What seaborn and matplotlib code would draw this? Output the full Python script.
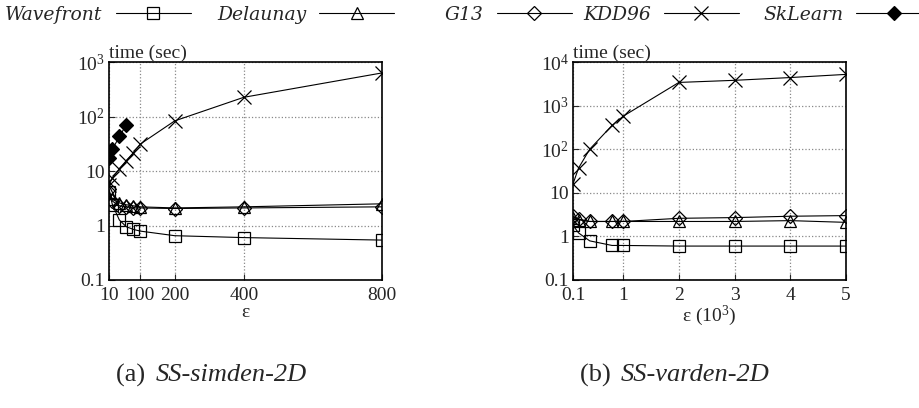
import matplotlib
matplotlib.use("Agg")
import matplotlib.pyplot as plt
import seaborn as sns
import pandas as pd

# ---- data (a) SS-simden-2D ----
eps_a = [10, 20, 40, 60, 80, 100, 200, 400, 800]
wavefront_a = [4.2, 2.4, 1.26, 0.95, 0.85, 0.79, 0.65, 0.60, 0.54]
delaunay_a = [4.2, 3.0, 2.6, 2.4, 2.3, 2.2, 2.1, 2.2, 2.5]
g13_a = [4.6, 2.8, 2.3, 2.2, 2.1, 2.1, 2.05, 2.1, 2.2]
kdd96_a = [5.5, 7.5, 11, 15.5, 21.5, 31, 83, 225, 630]
sk_eps_a = [10, 20, 40, 60]
sklearn_a = [17, 25, 43, 70]

# ---- data (b) SS-varden-2D ----
eps_b = [0.1, 0.2, 0.4, 0.8, 1, 2, 3, 4, 5]
wavefront_b = [1.8, 1.2, 0.79, 0.62, 0.62, 0.60, 0.60, 0.60, 0.60]
delaunay_b = [2.7, 2.4, 2.2, 2.2, 2.2, 2.2, 2.2, 2.3, 2.1]
g13_b = [2.9, 2.5, 2.2, 2.2, 2.2, 2.6, 2.7, 2.9, 3.0]
kdd96_b = [16, 37, 100, 350, 570, 3400, 3800, 4400, 5200]

xticks_a = [10, 100, 200, 400, 800]
xticks_b = [0.1, 1, 2, 3, 4, 5]
yticks_a = [0.1, 1, 10, 100, 1000]
ylabels_a = ["0.1", "1", "10", "10$^2$", "10$^3$"]
yticks_b = [0.1, 1, 10, 100, 1000, 10000]
ylabels_b = ["0.1", "1", "10", "10$^2$", "10$^3$", "10$^4$"]

legend_names = ["Wavefront", "Delaunay", "G13", "KDD96", "SkLearn"]
captions = [("(a)", "SS-simden-2D"), ("(b)", "SS-varden-2D")]

sns.set_style("ticks")
plt.rcParams["font.family"] = ["Liberation Serif", "DejaVu Serif"]
plt.rcParams["mathtext.fontset"] = "custom"
plt.rcParams["mathtext.rm"] = "Liberation Serif"
plt.rcParams["mathtext.it"] = "Liberation Serif:italic"

W, H = 920, 408
fig = plt.figure(figsize=(9.2, 4.08), dpi=100)
ax_a = fig.add_axes([109 / W, 1 - 280 / H, 273 / W, 218 / H])
ax_b = fig.add_axes([573 / W, 1 - 280 / H, 273 / W, 218 / H])

styles = {
    "Wavefront": dict(marker="s", markerfacecolor="none", markersize=8),
    "Delaunay": dict(marker="^", markerfacecolor="none", markersize=8),
    "G13": dict(marker="D", markerfacecolor="none", markersize=7),
    "KDD96": dict(marker="x", markersize=10),
    "SkLearn": dict(marker="D", markerfacecolor="black", markersize=7),
}


def draw(ax, x, y, name):
    df = pd.DataFrame({"x": x, "y": y})
    sns.lineplot(data=df, x="x", y="y", ax=ax, color="black", linewidth=0.8,
                 markeredgecolor="black", markeredgewidth=0.9, label=name,
                 legend=False, **styles[name])


draw(ax_a, eps_a, wavefront_a, "Wavefront")
draw(ax_a, eps_a, delaunay_a, "Delaunay")
draw(ax_a, eps_a, g13_a, "G13")
draw(ax_a, eps_a, kdd96_a, "KDD96")
draw(ax_a, sk_eps_a, sklearn_a, "SkLearn")

draw(ax_b, eps_b, wavefront_b, "Wavefront")
draw(ax_b, eps_b, delaunay_b, "Delaunay")
draw(ax_b, eps_b, g13_b, "G13")
draw(ax_b, eps_b, kdd96_b, "KDD96")

FS = 14
for ax, xt, yt, yl, xlab, ylim in [
    (ax_a, xticks_a, yticks_a, ylabels_a, "ε", (0.1, 1000)),
    (ax_b, xticks_b, yticks_b, ylabels_b, "ε (10$^3$)", (0.1, 10000)),
]:
    ax.set_yscale("log")
    ax.set_ylim(*ylim)
    ax.set_xlim(xt[0], xt[-1])
    ax.set_xticks(xt, labels=[f"{v:g}" for v in xt])
    ax.set_yticks(yt, labels=yl)
    ax.minorticks_off()
    ax.tick_params(direction="in", length=4, width=0.8, labelsize=FS)
    ax.tick_params(axis="y", pad=3)
    ax.tick_params(axis="x", pad=5)
    ax.grid(True, color="#888888", linestyle=":", linewidth=0.9)
    for s in ax.spines.values():
        s.set_linewidth(1.2)
        s.set_color("black")
        s.set_visible(True)
    ax.set_xlabel(xlab, fontsize=FS, labelpad=0)
    ax.set_ylabel("")
    ax.text(0.0, 1.0, "time (sec)", transform=ax.transAxes, ha="left",
            va="bottom", fontsize=FS)

# legend: one entry per slot, placed like the reference
handles, labels = ax_a.get_legend_handles_labels()
text_x = [5, 217, 445, 583, 763]
for h, lab, x0 in zip(handles, labels, text_x):
    fig.legend([h], [lab], loc="center left",
               bbox_to_anchor=(x0 / W, 1 - 15 / H), frameon=False,
               markerfirst=False, handlelength=4.0, handletextpad=0.7,
               borderpad=0, borderaxespad=0,
               prop=dict(family="DejaVu Serif", style="italic", size=13.5))

cap_y = 1 - 375 / H
for (tag, name), split in zip(captions, [152, 617]):
    fig.text(split / W, cap_y, tag + " ", ha="right", va="center", fontsize=19)
    fig.text((split + 4) / W, cap_y, name, ha="left", va="center",
             fontsize=19, style="italic")

fig.savefig("out.png", dpi=100)
